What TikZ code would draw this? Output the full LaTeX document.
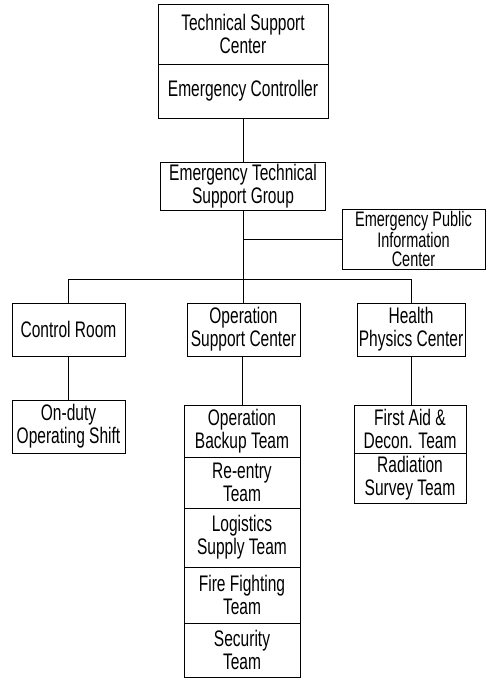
\documentclass[tikz,border=0pt]{standalone}
\usepackage{fontspec}
\setmainfont[FakeStretch=0.69]{Liberation Sans}
\begin{document}
\begin{tikzpicture}[x=1pt,y=-1pt,
  box/.style={draw, line width=0.9pt, inner sep=0pt, align=center,
    font=\fontsize{22.5}{23}\selectfont},
  link/.style={line width=0.9pt}]
\useasboundingbox (0,0) rectangle (493,678);

% headquarters
\node[box, minimum width=170pt, minimum height=60pt] (tsc) at (243,34) {Technical Support\\Center};
\node[box, minimum width=170pt, minimum height=54pt] (ec) at (243,91) {Emergency Controller};
\node[box, minimum width=165pt, minimum height=48pt] (etsg) at (243,186) {Emergency Technical\\Support Group};
\node[box, minimum width=143pt, minimum height=60pt, font=\fontsize{21}{19.5}\selectfont] (epic) at (413.5,239) {Emergency Public\\Information\\Center};

% centers
\node[box, minimum width=113pt, minimum height=53pt] (cr) at (68.5,329.5) {Control Room};
\node[box, minimum width=113pt, minimum height=53pt] (osc) at (243.5,329.5) {Operation\\Support Center};
\node[box, minimum width=108pt, minimum height=53pt] (hpc) at (411,329.5) {Health\\Physics Center};

% teams
\node[box, minimum width=113pt, minimum height=53pt] (shift) at (68.5,426.5) {On-duty\\Operating Shift};

\node[box, minimum width=116pt, minimum height=52pt] (obt) at (242,431) {Operation\\Backup Team};
\node[box, minimum width=116pt, minimum height=51pt] (ret) at (242,482.5) {Re-entry\\Team};
\node[box, minimum width=116pt, minimum height=59pt] (lst) at (242,537.5) {Logistics\\Supply Team};
\node[box, minimum width=116pt, minimum height=56pt] (fft) at (242,595) {Fire Fighting\\Team};
\node[box, minimum width=116pt, minimum height=54pt] (sec) at (242,650) {Security\\Team};

\node[box, minimum width=112pt, minimum height=48pt] (fad) at (410,429) {First Aid \&\\Decon. Team};
\node[box, minimum width=112pt, minimum height=50pt] (rst) at (410,478) {Radiation\\Survey Team};

% connectors
\coordinate (epicj) at (243,239);
\coordinate (bus) at (243,279);
\draw[link] (ec.south) -- (etsg.north);
\draw[link] (etsg.south) -- (bus);
\draw[link] (epicj) -- (epic.west);
\draw[link] (bus) -| (cr.north);
\draw[link] (bus) -| (hpc.north);
\draw[link] (bus) -- (bus |- osc.north);
\draw[link] (cr.south) -- (shift.north);
\draw[link] (osc.south -| obt.north) -- (obt.north);
\draw[link] (hpc.south) -- (hpc.south |- fad.north);
\end{tikzpicture}
\end{document}
